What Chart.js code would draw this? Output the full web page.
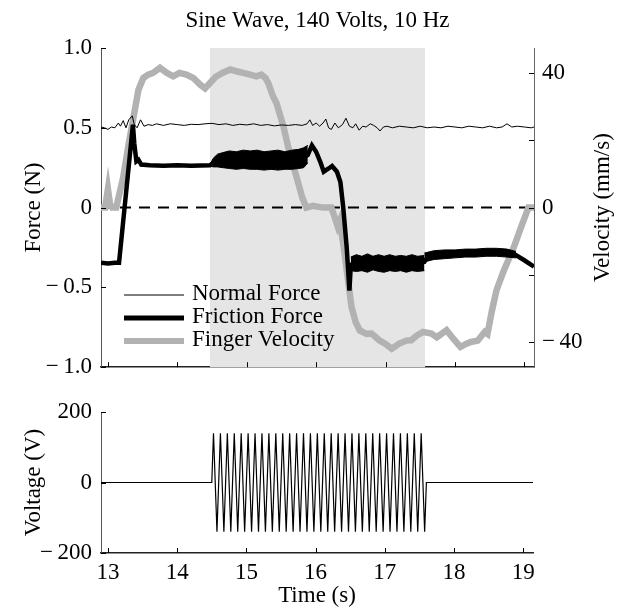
<!DOCTYPE html>
<html>
<head>
<meta charset="utf-8">
<script src="https://cdn.jsdelivr.net/npm/chart.js@4.4.1/dist/chart.umd.min.js"></script>
<style>
  body { margin: 0; background: #fff; }
  #wrap { position: relative; width: 619px; height: 611px; }
  canvas { position: absolute; left: 0; }
  #topChart { top: 0; }
  #voltChart { top: 385px; }
</style>
</head>
<body>
<div id="wrap">
  <canvas id="topChart" width="619" height="390"></canvas>
  <canvas id="voltChart" width="619" height="226"></canvas>
</div>
<script>
// --- dati ---
const X_MIN = 12.9, X_MAX = 19.14;
const timeTicks = [13, 14, 15, 16, 17, 18, 19];
const forceTicks = [-1, -0.5, 0, 0.5, 1];
const velocityTicks = [-40, -20, 0, 20, 40];
const velocityLabelled = [-40, 0, 40];
const voltTicks = [-200, 0, 200];
const shadeWindow = [14.47, 17.57];

const normalTime = [12.90, 12.95, 13.00, 13.05, 13.10, 13.15, 13.18, 13.22, 13.26, 13.30,
  13.35, 13.38, 13.42, 13.47, 13.52, 13.58, 13.64, 13.70, 13.80, 13.90,
  14.00, 14.10, 14.20, 14.30, 14.40, 14.50, 14.60, 14.70, 14.80, 14.90,
  15.00, 15.10, 15.20, 15.30, 15.40, 15.50, 15.60, 15.70, 15.80,
  15.87, 15.91, 15.95, 16.00, 16.05, 16.10, 16.14, 16.18, 16.22, 16.27,
  16.32, 16.38, 16.43, 16.48, 16.53, 16.57, 16.62, 16.67, 16.72, 16.78,
  16.83, 16.88, 16.92, 16.97, 17.02,
  17.10, 17.20, 17.30, 17.40, 17.50, 17.60, 17.70, 17.80, 17.90, 18.00, 18.10, 18.20, 18.30, 18.40, 18.50, 18.60,
  18.68, 18.75, 18.82, 18.90, 19.00, 19.10, 19.14];
const normalForce = [0.505, 0.50, 0.49, 0.505, 0.50, 0.53, 0.51, 0.545, 0.50, 0.55,
  0.575, 0.52, 0.50, 0.55, 0.51, 0.52, 0.515, 0.525, 0.515, 0.525,
  0.52, 0.515, 0.522, 0.52, 0.525, 0.528, 0.52, 0.525, 0.515, 0.522,
  0.518, 0.525, 0.515, 0.52, 0.512, 0.518, 0.515, 0.52, 0.515,
  0.525, 0.55, 0.515, 0.53, 0.51, 0.53, 0.555, 0.50, 0.49, 0.53,
  0.50, 0.52, 0.56, 0.51, 0.50, 0.525, 0.485, 0.51, 0.505, 0.525,
  0.515, 0.50, 0.48, 0.505, 0.51,
  0.50, 0.51, 0.505, 0.50, 0.51, 0.50, 0.505, 0.50, 0.51, 0.505, 0.50, 0.51, 0.505, 0.50, 0.51, 0.50,
  0.505, 0.525, 0.505, 0.51, 0.505, 0.50, 0.505];

const frictionTime = [12.90, 13.00, 13.10, 13.16, 13.36, 13.38, 13.41, 13.44, 13.48, 13.60,
  13.80, 14.00, 14.20, 14.47, 14.55, 14.70, 15.00, 15.30, 15.60, 15.80,
  15.88, 15.94, 16.00, 16.06, 16.11, 16.18, 16.23, 16.30, 16.35, 16.39,
  16.44, 16.48, 16.50, 16.55, 16.80, 17.10, 17.40, 17.56, 17.62, 17.90,
  18.20, 18.50, 18.70, 18.85, 19.00, 19.14];
const frictionForce = [-0.345, -0.35, -0.345, -0.345, 0.52, 0.40, 0.29, 0.30, 0.27, 0.265,
  0.262, 0.265, 0.262, 0.265, 0.29, 0.30, 0.30, 0.30, 0.30, 0.31,
  0.33, 0.39, 0.35, 0.287, 0.225, 0.245, 0.26, 0.225, 0.16, 0.005,
  -0.245, -0.52, -0.36, -0.345, -0.35, -0.35, -0.345, -0.34, -0.30, -0.295,
  -0.29, -0.285, -0.28, -0.29, -0.33, -0.37];

// inviluppo della vibrazione (banda nera spessa)
const bandPosTime = [14.47, 14.52, 14.58, 14.66, 14.75, 14.85, 14.95, 15.05, 15.15, 15.25, 15.35, 15.45, 15.55, 15.65, 15.75, 15.82, 15.88];
const bandPosHi = [0.27, 0.31, 0.335, 0.345, 0.355, 0.35, 0.36, 0.355, 0.36, 0.35, 0.355, 0.36, 0.35, 0.36, 0.365, 0.375, 0.39];
const bandPosLo = [0.26, 0.255, 0.255, 0.25, 0.245, 0.24, 0.245, 0.24, 0.24, 0.235, 0.24, 0.235, 0.24, 0.24, 0.245, 0.25, 0.28];
const bandNegTime = [16.50, 16.58, 16.66, 16.74, 16.82, 16.90, 16.98, 17.06, 17.14, 17.22, 17.30, 17.38, 17.46, 17.56];
const bandNegHi = [-0.31, -0.295, -0.305, -0.29, -0.305, -0.295, -0.305, -0.295, -0.305, -0.30, -0.305, -0.295, -0.305, -0.30];
const bandNegLo = [-0.395, -0.40, -0.395, -0.405, -0.39, -0.40, -0.405, -0.395, -0.40, -0.395, -0.405, -0.395, -0.40, -0.395];
const bandEndTime = [17.56, 17.70, 17.85, 18.00, 18.15, 18.30, 18.45, 18.60, 18.75, 18.88];
const bandEndHi = [-0.285, -0.27, -0.265, -0.265, -0.26, -0.26, -0.255, -0.255, -0.26, -0.275];
const bandEndLo = [-0.34, -0.325, -0.32, -0.315, -0.31, -0.31, -0.305, -0.305, -0.31, -0.315];

const velocityTime = [12.90, 12.96, 13.00, 13.03, 13.06, 13.12, 13.22, 13.30, 13.37, 13.44,
  13.51, 13.58, 13.65, 13.75, 13.85, 13.94, 14.03, 14.13, 14.23, 14.33,
  14.40, 14.47, 14.55, 14.65, 14.76, 14.85, 14.95, 15.05, 15.14, 15.21,
  15.27, 15.31, 15.38, 15.43, 15.53, 15.62, 15.72, 15.80, 15.86, 15.95,
  16.10, 16.22, 16.27, 16.31, 16.34, 16.40, 16.45, 16.51, 16.57, 16.63,
  16.73, 16.80, 16.91, 17.00, 17.09, 17.20, 17.30, 17.37, 17.45, 17.54,
  17.66, 17.74, 17.88, 17.98, 18.08, 18.16, 18.23, 18.33, 18.43, 18.47,
  18.53, 18.60, 18.70, 18.85, 18.95, 19.06, 19.14];
const velocity = [0, 0, 5.5, 1, 0, 0, 9, 19, 27, 35,
  38.5, 39.5, 40, 41.5, 40, 39, 40, 39.5, 38.5, 36.5,
  35.4, 37, 38.8, 40, 41, 40.5, 40, 39.5, 39, 39.5,
  38.5, 37, 33, 31, 24, 16, 9, 3, 0, 0.5,
  0, 0, -3, -5.5, -4, -12, -20, -29.5, -34, -36.5,
  -37.5, -37.4, -39.4, -40.5, -41.9, -40.4, -39.5, -39.4, -38, -36.9,
  -37.4, -38.5, -36.4, -39, -41.4, -40.5, -39.9, -39.5, -36.9, -37.5,
  -31, -24.5, -19, -11.7, -6, 0, 0];

// tensione: estremi della sinusoide (10 Hz, 140 V)
const voltTime = [12.90, 14.50,
  14.525, 14.575, 14.625, 14.675, 14.725, 14.775, 14.825, 14.875, 14.925, 14.975,
  15.025, 15.075, 15.125, 15.175, 15.225, 15.275, 15.325, 15.375, 15.425, 15.475,
  15.525, 15.575, 15.625, 15.675, 15.725, 15.775, 15.825, 15.875, 15.925, 15.975,
  16.025, 16.075, 16.125, 16.175, 16.225, 16.275, 16.325, 16.375, 16.425, 16.475,
  16.525, 16.575, 16.625, 16.675, 16.725, 16.775, 16.825, 16.875, 16.925, 16.975,
  17.025, 17.075, 17.125, 17.175, 17.225, 17.275, 17.325, 17.375, 17.425, 17.475,
  17.525, 17.575,
  17.60, 19.14];
const voltValue = [0, 0,
  140, -140, 140, -140, 140, -140, 140, -140, 140, -140,
  140, -140, 140, -140, 140, -140, 140, -140, 140, -140,
  140, -140, 140, -140, 140, -140, 140, -140, 140, -140,
  140, -140, 140, -140, 140, -140, 140, -140, 140, -140,
  140, -140, 140, -140, 140, -140, 140, -140, 140, -140,
  140, -140, 140, -140, 140, -140, 140, -140, 140, -140,
  140, -140,
  0, 0];

const legendItems = ["Normal Force", "Friction Force", "Finger Velocity"];

// --- stile ---
const SERIF = "'Liberation Serif', 'Times New Roman', serif";
const FONT = { family: SERIF, size: 23 };
const GRAY = "#b2b2b2";
Chart.defaults.color = "#000";
Chart.defaults.font.family = SERIF;

function pts(xs, ys) {
    return xs.map((x, i) => ({ x: x, y: ys[i] }));
}

// segno meno tipografico, staccato dalla cifra come nell'originale
function minusSign(v) {
    return String(v).replace("-", "\u2212\u2009");
}

// Tacche rivolte verso l'interno
const inwardTicks = {
    id: "inwardTicks",
    afterDraw(chart) {
        const ctx = chart.ctx;
        ctx.save();
        ctx.strokeStyle = "#000";
        ctx.lineWidth = 1;
        Object.values(chart.scales).forEach(s => {
            s.ticks.forEach(t => {
                const p = Math.round(s.getPixelForValue(t.value)) + 0.5;
                ctx.beginPath();
                if (s.position === "bottom") {
                    ctx.moveTo(p, s.top);
                    ctx.lineTo(p, s.top - 5);
                } else if (s.position === "left") {
                    ctx.moveTo(s.right, p);
                    ctx.lineTo(s.right + 5, p);
                } else {
                    ctx.moveTo(s.left, p);
                    ctx.lineTo(s.left - 5, p);
                }
                ctx.stroke();
            });
        });
        ctx.restore();
    }
};

// Zona grigia (vibrazione attiva)
const shading = {
    id: "shading",
    beforeDatasetsDraw(chart) {
        const { ctx, chartArea, scales } = chart;
        const x1 = scales.x.getPixelForValue(shadeWindow[0]);
        const x2 = scales.x.getPixelForValue(shadeWindow[1]);
        ctx.save();
        ctx.fillStyle = "#e5e5e5";
        ctx.fillRect(x1, chartArea.top, x2 - x1, chartArea.bottom - chartArea.top);
        ctx.restore();
    }
};

// Legenda interna e titolo dell'asse destro
const innerLegend = {
    id: "innerLegend",
    afterDraw(chart) {
        const ctx = chart.ctx;
        const styles = [
            { color: "#000", width: 1 },
            { color: "#000", width: 5 },
            { color: GRAY, width: 6 }
        ];
        const rows = [295, 318, 341];
        ctx.save();
        legendItems.forEach((label, i) => {
            ctx.strokeStyle = styles[i].color;
            ctx.lineWidth = styles[i].width;
            ctx.beginPath();
            ctx.moveTo(124, rows[i]);
            ctx.lineTo(184, rows[i]);
            ctx.stroke();
            ctx.fillStyle = "#000";
            ctx.font = "23px " + SERIF;
            ctx.textBaseline = "middle";
            ctx.textAlign = "left";
            ctx.fillText(label, 192, rows[i] - 1);
        });
        const area = chart.chartArea;
        ctx.translate(603, (area.top + area.bottom) / 2);
        ctx.rotate(-Math.PI / 2);
        ctx.textAlign = "center";
        ctx.fillText("Velocity (mm/s)", 0, 0);
        ctx.restore();
    }
};

function timeAxis(showLabels, height) {
    return {
        type: "linear",
        position: "bottom",
        min: X_MIN,
        max: X_MAX,
        afterBuildTicks: s => { s.ticks = timeTicks.map(v => ({ value: v })); },
        afterFit: s => { s.height = height; },
        grid: { display: false, drawTicks: false },
        border: { color: "#222", width: 1.5 },
        ticks: { display: showLabels, font: FONT, padding: 6, maxRotation: 0 },
        title: {
            display: showLabels,
            text: "Time (s)",
            font: FONT,
            padding: { top: 0, bottom: 1 }
        }
    };
}

new Chart(document.getElementById("topChart"), {
    type: "line",
    data: {
        datasets: [
            { data: pts(frictionTime, frictionForce), borderColor: "#000", borderWidth: 4.5, yAxisID: "y", order: 0 },
            { data: pts(bandPosTime, bandPosHi), borderColor: "#000", borderWidth: 1, yAxisID: "y", order: 1 },
            { data: pts(bandPosTime, bandPosLo), borderColor: "#000", borderWidth: 1, yAxisID: "y", order: 1, fill: "-1", backgroundColor: "#000" },
            { data: pts(bandNegTime, bandNegHi), borderColor: "#000", borderWidth: 1, yAxisID: "y", order: 1 },
            { data: pts(bandNegTime, bandNegLo), borderColor: "#000", borderWidth: 1, yAxisID: "y", order: 1, fill: "-1", backgroundColor: "#000" },
            { data: pts(bandEndTime, bandEndHi), borderColor: "#000", borderWidth: 1, yAxisID: "y", order: 1 },
            { data: pts(bandEndTime, bandEndLo), borderColor: "#000", borderWidth: 1, yAxisID: "y", order: 1, fill: "-1", backgroundColor: "#000" },
            { data: pts(normalTime, normalForce), borderColor: "#000", borderWidth: 1, yAxisID: "y", order: 2 },
            { data: pts(velocityTime, velocity), borderColor: GRAY, borderWidth: 6.5, yAxisID: "v", order: 3 },
            { data: [{ x: X_MIN, y: 0 }, { x: X_MAX, y: 0 }], borderColor: "#000", borderWidth: 2, borderDash: [11, 8], yAxisID: "y", order: 4 }
        ]
    },
    options: {
        responsive: false,
        animation: false,
        events: [],
        elements: { point: { radius: 0 }, line: { tension: 0, fill: false } },
        layout: { padding: 0 },
        plugins: {
            legend: { display: false },
            tooltip: { enabled: false },
            title: {
                display: true,
                fullSize: false,
                text: "Sine Wave, 140 Volts, 10 Hz",
                font: { family: SERIF, size: 23, weight: "normal" },
                color: "#000",
                padding: { top: 7, bottom: 13.4 }
            }
        },
        scales: {
            x: timeAxis(false, 18),
            y: {
                type: "linear",
                position: "left",
                min: -1,
                max: 1,
                afterBuildTicks: s => { s.ticks = forceTicks.map(v => ({ value: v })); },
                afterFit: s => { s.width = 101; },
                grid: { display: false, drawTicks: false },
                border: { color: "#555", width: 1 },
                ticks: {
                    font: FONT,
                    padding: 9,
                    callback: v => v === 0 ? "0" : minusSign(v.toFixed(1))
                },
                title: { display: true, text: "Force (N)", font: FONT, padding: { top: 20, bottom: 0 } }
            },
            v: {
                type: "linear",
                position: "right",
                min: -47.4,
                max: 47.4,
                afterBuildTicks: s => { s.ticks = velocityTicks.map(v => ({ value: v })); },
                afterFit: s => { s.width = 85; },
                grid: { display: false, drawTicks: false },
                border: { color: "#666", width: 1 },
                ticks: {
                    font: FONT,
                    padding: 8,
                    callback: v => velocityLabelled.includes(v) ? minusSign(v) : ""
                }
            }
        }
    },
    plugins: [shading, inwardTicks, innerLegend]
});

new Chart(document.getElementById("voltChart"), {
    type: "line",
    data: {
        datasets: [
            { data: pts(voltTime, voltValue), borderColor: "#000", borderWidth: 1.2 }
        ]
    },
    options: {
        responsive: false,
        animation: false,
        events: [],
        elements: { point: { radius: 0 }, line: { tension: 0, fill: false } },
        layout: { padding: { top: 27, right: 86, left: 0, bottom: 0 } },
        plugins: { legend: { display: false }, tooltip: { enabled: false } },
        scales: {
            x: timeAxis(true, 58),
            y: {
                type: "linear",
                position: "left",
                min: -200,
                max: 200,
                afterBuildTicks: s => { s.ticks = voltTicks.map(v => ({ value: v })); },
                afterFit: s => { s.width = 101; },
                grid: { display: false, drawTicks: false },
                border: { color: "#555", width: 1 },
                ticks: { font: FONT, padding: 9, callback: v => minusSign(v) },
                title: { display: true, text: "Voltage (V)", font: FONT, padding: { top: 20, bottom: 0 } }
            }
        }
    },
    plugins: [inwardTicks]
});
</script>
</body>
</html>
